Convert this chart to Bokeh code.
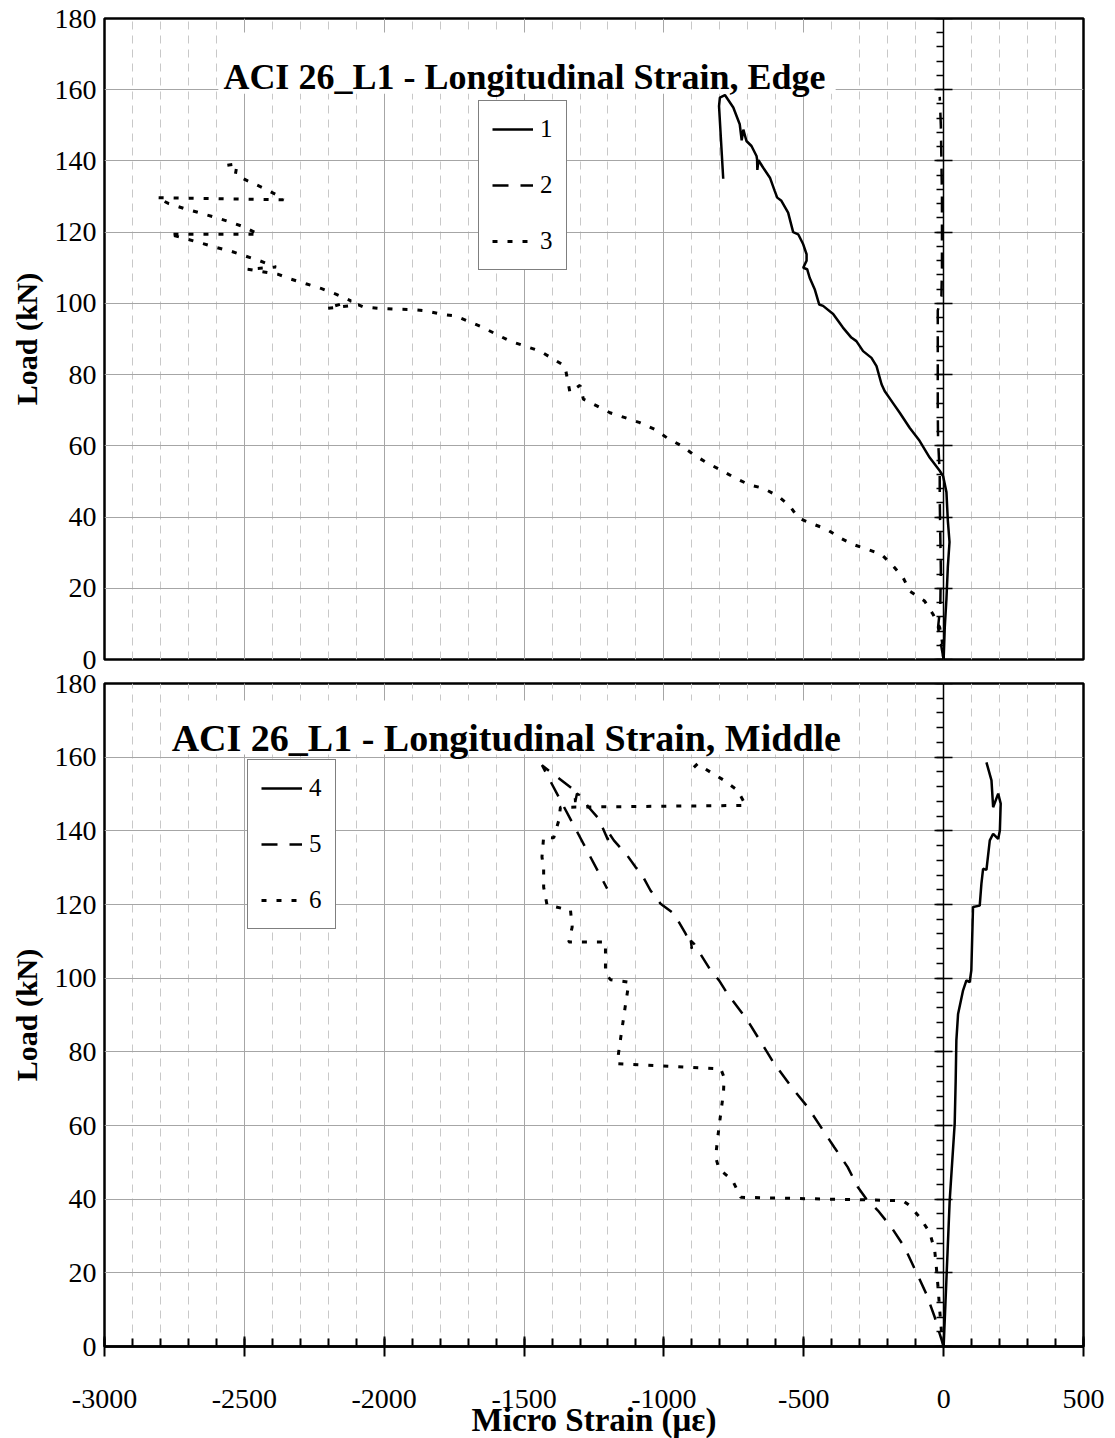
from bokeh.plotting import figure
from bokeh.models import (Range1d, LinearAxis, SingleIntervalTicker, Label, Legend,
                          LegendItem, CustomJSTickFormatter, BoxAnnotation)
from bokeh.layouts import column
from bokeh.embed import file_html
from bokeh.resources import INLINE

FONT = "Liberation Serif"

# ---------------- data ----------------
x_ticks_interval = 500
y_ticks_interval = 20

# Top panel: gauges 1, 2, 3 (edge)
x1 = [0, 4, 10, 15, 21, 15, 10, -2, -14, -50, -86, -121, -157, -181, -211, -222, -240, -258,
      -288, -312, -330, -360, -395, -431, -445, -461, -479, -488, -502, -490, -490, -502, -520,
      -538, -556, -580, -595, -604, -621, -645, -662, -666, -667, -669, -687, -705, -716, -722,
      -729, -752, -782, -800, -803, -788]
y1 = [0, 9, 17, 26, 33, 39, 47, 51.5, 53, 56.7, 61.4, 65, 69.3, 72, 75.4, 77.3, 82.4, 84.7,
      86.6, 89.4, 90.4, 93.2, 97, 99.3, 99.7, 104, 107.2, 109.6, 110, 112, 113.8, 116.6, 119.4,
      120, 125.5, 128.8, 129.7, 131.6, 135.3, 138.1, 140.2, 137.5, 140.5, 141.4, 144.2, 145.6,
      148.8, 145.8, 150.3, 155, 158.5, 157.8, 155.4, 135]

x2 = [0, -20, -12, -10, -12, -14, -14, -20, -21, -21, -21, -21, -8, -6, -6, -6, -8, -10, -14]
y2 = [0, 9, 15, 25, 35, 45, 52, 62, 70, 80, 90, 98, 102, 110, 120, 130, 140, 150, 158]

x3 = [0, -5, -14, -38, -68, -121, -145, -181, -222, -270, -324, -371, -419, -479, -520, -550,
      -592, -645, -693, -746, -794, -848, -895, -937, -990, -1032, -1086, -1139, -1193, -1240,
      -1288, -1300, -1336, -1354, -1443, -1550, -1657, -1746, -1794, -1848, -1907, -1961, -2014,
      -2074, -2092, -2205, -2119, -2173, -2226, -2280, -2333, -2381, -2488, -2387, -2396, -2443,
      -2496, -2550, -2604, -2657, -2711, -2770, -2449, -2502, -2556, -2610, -2663, -2717, -2770,
      -2812, -2360, -2387, -2435, -2488, -2532, -2526, -2580, -2580]
y3 = [0, 5, 9, 12.7, 16.4, 19.2, 23, 26.3, 29.5, 30.9, 32.3, 34.2, 36.6, 38.4, 39.8, 43.1,
      45.9, 48.1, 49, 51, 53.1, 55.3, 57.6, 60, 62.3, 64.6, 66.5, 67.9, 69.3, 71.2,
      73.1, 77, 75, 82.4, 86.6, 89.4, 93.6, 96.5, 96.9, 97.9, 98.3, 98.4, 98.6,
      99, 99.6, 98.6, 100.7, 102.6, 104.2, 105.5, 106.8, 108.2, 109.6, 110.2, 110.5, 111.9,
      113.3, 114.7, 115.8, 117, 118.2, 119.4, 119.4, 121.5, 123, 124.3, 125.5, 126.7, 128,
      129.7, 129.1, 130.6, 132.5, 134.4, 136.2, 139.2, 138.6, 137.5]

# Bottom panel: gauges 4, 5, 6 (middle)
x4 = [0, 21.6, 39.5, 43, 45.5, 51.6, 69.5, 81.4, 93, 99, 105, 129, 135, 141, 153, 165, 177,
      195, 201, 204, 195, 177, 171, 153]
y4 = [0, 39.6, 60.5, 72, 83.1, 90.3, 96.7, 99.4, 98.9, 102.1, 119.3, 119.7, 125.6, 129.7,
      129.4, 137.4, 139.2, 137.8, 140.1, 147.4, 150.1, 146.4, 153.7, 158.6]

x5 = [0, -14, -32, -62, -98, -140, -187, -235, -277, -307, -343, -391, -438, -486, -534, -606,
      -635, -701, -773, -803, -833, -892, -904, -900, -922, -964, -1012, -1048, -1084, -1101,
      -1131, -1179, -1203, -1200, -1233, -1269, -1299, -1311, -1317, -1320, -1436, -1203]
y5 = [0, 3.4, 8, 14.3, 20.2, 27, 32.4, 36.9, 40.1, 43.3, 48.7, 54.1, 59.5, 65, 69.5, 76.8,
      80.4, 88.5, 95.8, 99.4, 102.1, 109.3, 110.2, 108, 112, 117.5, 120.2, 123.8, 128.8, 130.1,
      133.3, 137.4, 140.1, 137.5, 143.3, 146.4, 149.6, 150.1, 147.8, 151, 157.8, 124.3]

x6 = [0, -8, -14, -20, -26, -32, -50, -86, -122, -146, -725, -755, -803, -815, -809, -797,
      -787, -785, -797, -1167, -1161, -1149, -1137, -1125, -1191, -1209, -1209, -1340, -1328,
      -1334, -1418, -1430, -1430, -1436, -1430, -1394, -1376, -1370, -707, -737, -785, -833,
      -880, -904]
y6 = [0, 4.3, 9.8, 16.1, 21.5, 26.1, 31, 35.1, 38.3, 39.6, 40.5, 45.1, 48.2, 51.4, 55.9, 63.2,
      69, 73.1, 75.4, 76.8, 80.4, 86.7, 93, 98.9, 99.6, 101.2, 109.8, 109.8, 113.9,
      118.4, 119.9, 124.7, 129.7, 132.9, 138.3, 138.1, 142.8, 146.4, 146.9, 151, 153.7, 155.9,
      158.2, 156.4]

title_top = "ACI 26_L1 - Longitudinal Strain, Edge"
title_bottom = "ACI 26_L1 - Longitudinal Strain, Middle"
y_label = "Load (kN)"
x_label = "Micro Strain (\u03bc\u03b5)"

DASH = "16 12"
DOT = "5 10"


def make_fig(frame_h, min_top, min_bottom, show_x):
    p = figure(frame_width=979, frame_height=frame_h,
               x_range=Range1d(-3000, 500), y_range=Range1d(0, 180),
               output_backend="svg", toolbar_location=None,
               min_border_left=104, min_border_right=22,
               min_border_top=min_top, min_border_bottom=min_bottom,
               background_fill_color="white", border_fill_color="white")
    p.outline_line_color = "black"
    p.outline_line_width = 2.5
    p.outline_line_alpha = 1.0

    xt = SingleIntervalTicker(interval=x_ticks_interval, num_minor_ticks=5)
    yt = SingleIntervalTicker(interval=y_ticks_interval, num_minor_ticks=5)
    p.xaxis.ticker = xt
    p.yaxis.ticker = yt
    p.xgrid.ticker = xt
    p.ygrid.ticker = yt
    p.xgrid.grid_line_color = "#a6a6a6"
    p.xgrid.grid_line_width = 1
    p.xgrid.minor_grid_line_color = "#c8c8c8"
    p.xgrid.minor_grid_line_dash = "8 6"
    p.xgrid.minor_grid_line_width = 1
    p.ygrid.grid_line_color = "#a6a6a6"
    p.ygrid.grid_line_width = 1

    ya = p.yaxis[0]
    ya.major_tick_in = 0
    ya.major_tick_out = 0
    ya.minor_tick_in = 0
    ya.minor_tick_out = 0
    ya.axis_line_color = None
    ya.formatter = CustomJSTickFormatter(code="return tick.toFixed(0)")
    ya.major_label_text_font = FONT
    ya.major_label_text_font_size = "28px"
    ya.major_label_text_color = "black"
    ya.major_label_standoff = 8
    ya.axis_label = y_label
    ya.axis_label_text_font = FONT
    ya.axis_label_text_font_style = "bold"
    ya.axis_label_text_font_size = "30px"
    ya.axis_label_text_color = "black"
    ya.axis_label_standoff = 9

    xa = p.xaxis[0]
    if show_x:
        xa.axis_line_color = "black"
        xa.axis_line_width = 2.5
        xa.major_tick_in = 10
        xa.major_tick_out = 10
        xa.minor_tick_in = 8
        xa.minor_tick_out = 0
        xa.major_tick_line_width = 2
        xa.minor_tick_line_width = 2
        xa.formatter = CustomJSTickFormatter(code="return tick.toFixed(0)")
        xa.major_label_text_font = FONT
        xa.major_label_text_font_size = "28px"
        xa.major_label_text_color = "black"
        xa.major_label_standoff = 33
        xa.axis_label = x_label
        xa.axis_label_text_font = FONT
        xa.axis_label_text_font_style = "bold"
        xa.axis_label_text_font_size = "33px"
        xa.axis_label_text_color = "black"
        xa.axis_label_standoff = -9
    else:
        xa.visible = False

    # value axis crossing at strain = 0
    ax0 = LinearAxis(fixed_location=0,
                     ticker=SingleIntervalTicker(interval=y_ticks_interval, num_minor_ticks=5),
                     formatter=CustomJSTickFormatter(code="return ''"),
                     major_tick_in=9, major_tick_out=9, minor_tick_in=0, minor_tick_out=7,
                     axis_line_width=1.5, major_tick_line_width=1.5, minor_tick_line_width=1.5,
                     axis_line_color="black", major_tick_line_color="black",
                     minor_tick_line_color="black")
    p.add_layout(ax0, "left")
    return p


top = make_fig(641, 18, 13, False)
bot = make_fig(663, 11, 0, True)

r1 = top.line(x1, y1, line_color="black", line_width=2.5)
r2 = top.line(x2, y2, line_color="black", line_width=2.5, line_dash=DASH)
r3 = top.line(x3, y3, line_color="black", line_width=3, line_dash=DOT)

r4 = bot.line(x4, y4, line_color="black", line_width=2.5)
r5 = bot.line(x5, y5, line_color="black", line_width=2.5, line_dash=DASH)
r6 = bot.line(x6, y6, line_color="black", line_width=3, line_dash=DOT)


def add_title(p, text, x, y, size, box):
    left, right, bottom, top_ = box
    p.add_layout(BoxAnnotation(left=left, right=right, bottom=bottom, top=top_,
                               fill_color="white", fill_alpha=1.0, line_color=None))
    p.add_layout(Label(x=x, y=y, text=text, text_font=FONT, text_font_style="bold",
                       text_font_size=size, text_color="black", text_align="left",
                       text_baseline="alphabetic"))


add_title(top, title_top, -2575, 163.7, "36px", (-2593, -386, 158.9, 176.1))
add_title(bot, title_bottom, -2760, 165.1, "38px", (-2785, -337, 160.7, 175.4))


def add_legend(p, labels, rends, loc):
    leg = Legend(items=[LegendItem(label=l, renderers=[r]) for l, r in zip(labels, rends)],
                 location=loc, orientation="vertical",
                 border_line_color="black", border_line_width=1,
                 background_fill_color="white", background_fill_alpha=1.0,
                 label_text_font=FONT, label_text_font_size="25px", label_text_color="black",
                 glyph_width=41, glyph_height=30, label_height=30, label_width=12,
                 label_standoff=7, spacing=26, padding=13, margin=0)
    p.add_layout(leg, "center")


add_legend(top, ["1", "2", "3"], [r1, r2, r3], (374, 389))
add_legend(bot, ["4", "5", "6"], [r4, r5, r6], (143, 417))

layout = column(top, bot)
open("out.html", "w").write(file_html(layout, INLINE))
